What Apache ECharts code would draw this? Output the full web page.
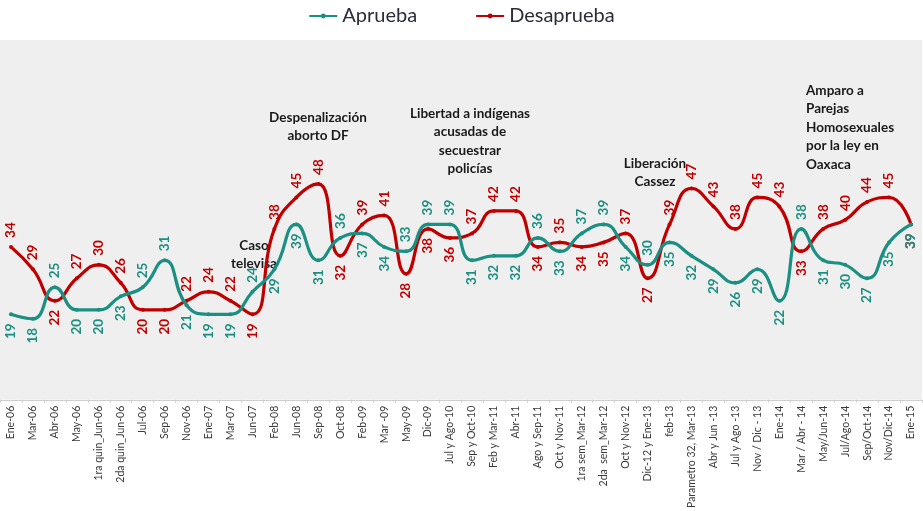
<!DOCTYPE html>
<html>
<head>
<meta charset="utf-8">
<script src="https://cdn.jsdelivr.net/npm/echarts@6/dist/echarts.min.js"></script>
<style>html,body{margin:0;padding:0;background:#fff}#c{width:923px;height:511px}</style>
</head>
<body>
<div id="c"></div>
<script>
const categories = ["Ene-06","Mar-06","Abr-06","May-06","1ra quin_Jun-06","2da quin_Jun-06","Jul-06","Sep-06","Nov-06","Ene-07","Mar-07","Jun-07","Feb-08","Jun-08","Sep-08","Oct-08","Feb-09","Mar -09","May-09","Dic-09","Jul y Ago-10","Sep y Oct-10","Feb y Mar-11","Abr-11","Ago y Sep-11","Oct y Nov-11","1ra sem_Mar-12","2da  sem_Mar-12","Oct y Nov-12","Dic-12 y Ene-13","feb-13","Parametro 32, Mar-13","Abr y Jun -13","Jul y Ago -13","Nov / Dic - 13","Ene-14","Mar / Abr - 14","May/Jun-14","Jul/Ago-14","Sep/Oct-14","Nov/Dic-14","Ene-15"];
const aprueba = [19,18,25,20,20,23,25,31,21,19,19,24,29,39,31,36,37,34,33,39,39,31,32,32,36,33,37,39,34,30,35,32,29,26,29,22,38,31,30,27,35,39];
const desaprueba = [34,29,22,27,30,26,20,20,22,24,22,19,38,45,48,32,39,41,28,38,36,37,42,42,34,35,34,35,37,27,39,47,43,38,45,43,33,38,40,44,45,39];
const seriesNames = ["Aprueba","Desaprueba"];
const annotations = [
  "Caso\ntelevisa",
  "Despenalización\naborto DF",
  "Libertad a indígenas\nacusadas de\nsecuestrar\npolicías",
  "Liberación\nCassez",
  "Amparo a\nParejas\nHomosexuales\npor la ley en\nOaxaca"
];

const TEAL = '#1b8f82', RED = '#c00000';
function withLabels(vals, other) {
  return vals.map((v, i) => {
    const up = v > other[i];
    return {
      value: v,
      label: up ? { position: 'top', align: 'left', verticalAlign: 'middle' }
                : { position: 'bottom', align: 'right', verticalAlign: 'middle' }
    };
  });
}
const labelBase = (color) => ({
  show: true, rotate: 90, color: color, fontWeight: 'bold',
  fontFamily: 'Lato', fontSize: 13.5, distance: 7,
  formatter: '{c}'
});
const annoStyle = { fontFamily: 'Lato', fontWeight: 'bold', fontSize: 13.5, fill: '#1a1a1a', lineHeight: 18.5 };

const chart = echarts.init(document.getElementById('c'), null, { renderer: 'canvas' });
chart.setOption({
  animation: false,
  backgroundColor: '#ffffff',
  legend: {
    top: 1, left: 'center', itemGap: 58, itemWidth: 28, itemHeight: 6,
    textStyle: { fontFamily: 'Lato', fontSize: 20, color: '#2b2b3b' },
    data: seriesNames
  },
  grid: { left: 0, right: 1, top: 40, bottom: 111, show: true, backgroundColor: '#efefef', borderWidth: 0 },
  xAxis: {
    type: 'category', data: categories, boundaryGap: true,
    axisLine: { lineStyle: { color: '#cfcfcf' } },
    axisTick: { show: true, length: 3, lineStyle: { color: '#cfcfcf' } },
    axisLabel: { interval: 0, rotate: 90, fontFamily: 'Lato', fontSize: 10.5, color: '#3a3a3a', margin: 6 }
  },
  yAxis: { type: 'value', min: 0, max: 80, show: false, splitLine: { show: false } },
  series: [
    {
      name: seriesNames[0], type: 'line', smooth: 0.5,
      data: withLabels(aprueba, desaprueba),
      lineStyle: { color: TEAL, width: 3.2 },
      itemStyle: { color: TEAL },
      symbol: 'circle', symbolSize: 4,
      label: labelBase(TEAL), z: 3
    },
    {
      name: seriesNames[1], type: 'line', smooth: 0.5,
      data: withLabels(desaprueba, aprueba),
      lineStyle: { color: RED, width: 3.2 },
      itemStyle: { color: RED },
      symbol: 'circle', symbolSize: 4,
      label: labelBase(RED), z: 2
    }
  ],
  graphic: [
    { type: 'text', x: 254, y: 236, style: Object.assign({ text: annotations[0], align: 'center' }, annoStyle) },
    { type: 'text', x: 318, y: 108, style: Object.assign({ text: annotations[1], align: 'center' }, annoStyle) },
    { type: 'text', x: 470, y: 104, style: Object.assign({ text: annotations[2], align: 'center' }, annoStyle) },
    { type: 'text', x: 655, y: 154, style: Object.assign({ text: annotations[3], align: 'center' }, annoStyle) },
    { type: 'text', x: 806, y: 81, style: Object.assign({ text: annotations[4], align: 'left' }, annoStyle) }
  ]
});
</script>
</body>
</html>
